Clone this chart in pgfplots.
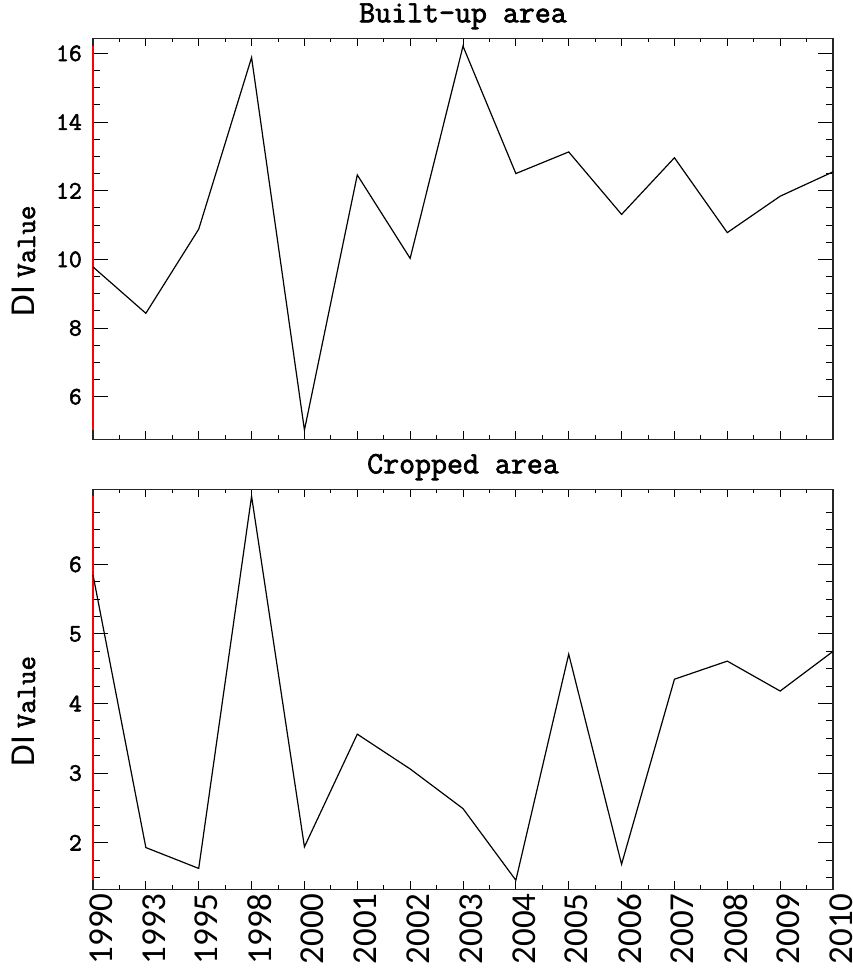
\documentclass[border=0pt]{standalone}
\usepackage{pgfplots}
\pgfplotsset{compat=1.18}
\usepackage{fontspec}
\newfontfamily\carl{Carlito}
\newfontfamily\courb{Latin Modern Mono}[FakeBold=2.2]
\pgfplotstableread{
x top bot
0 9.78 5.85
1 8.43 1.93
2 10.88 1.63
3 15.88 6.98
4 5.03 1.94
5 12.46 3.56
6 10.03 3.06
7 16.21 2.49
8 12.50 1.46
9 13.13 4.71
10 11.31 1.69
11 12.96 4.35
12 10.78 4.61
13 11.84 4.18
14 12.55 4.75
}\datatable
\begin{document}
\begin{tikzpicture}
\path[use as bounding box] (0pt,0pt) rectangle (853pt,971pt);
\pgfplotsset{
  dipanel/.style={
    scale only axis, width=740pt,
    anchor=south west,
    xmin=0, xmax=14,
    xtick={0,...,14},
    minor x tick num=1,
    tick align=inside,
    clip=false,
    axis line style={line width=1.4pt, black!85},
    every major x tick/.append style={line width=1pt, black, /pgfplots/major tick length=8pt},
    every minor x tick/.append style={line width=1pt, black, /pgfplots/minor tick length=4pt},
    every major y tick/.append style={line width=1pt, black, /pgfplots/major tick length=15pt},
    every minor y tick/.append style={line width=1pt, black, /pgfplots/minor tick length=7.5pt},
    yticklabel style={font=\fontsize{25}{25}\selectfont\courb, inner sep=0pt, xshift=-11pt},
    /pgf/number format/assume math mode=true,
    title style={font=\fontsize{31}{31}\selectfont\courb, at={(0.5,1)}, anchor=base, yshift=10pt},
    every axis y label/.style={at={(rel axis cs:0,0.445)}, xshift=-58pt, rotate=90, anchor=base},
    ylabel={{\carl\fontsize{35}{35}\selectfont DI}\hspace{8pt}{\fontsize{28}{28}\selectfont\courb Value}},
  }
}
\begin{axis}[dipanel,
  at={(93pt,531.7pt)}, height=401pt,
  ymin=4.76, ymax=16.44,
  ytick={6,8,...,16}, minor y tick num=3,
  xticklabels={},
  title={Built-up area}]
\addplot[red, line width=1.6pt, forget plot] coordinates {(0,5.03) (0,16.21)};
\addplot[black, line width=1.2pt] table[x=x, y=top] {\datatable};
\end{axis}
\begin{axis}[dipanel,
  at={(93pt,81.7pt)}, height=400pt,
  ymin=1.33, ymax=7.08,
  ytick={2,...,6},
  minor ytick={1.5,1.75,2.25,2.5,2.75,3.25,3.5,3.75,4.25,4.5,4.75,5.25,5.5,5.75,6.25,6.5,6.75},
  xticklabels={1990,1993,1995,1998,2000,2001,2002,2003,2004,2005,2006,2007,2008,2009,2010},
  xticklabel style={font=\carl\fontsize{35}{35}\selectfont, inner sep=0pt, xshift=8pt, yshift=-4pt, rotate=90, anchor=east},
  title={Cropped area}]
\addplot[red, line width=1.6pt, forget plot] coordinates {(0,1.46) (0,6.98)};
\addplot[black, line width=1.2pt] table[x=x, y=bot] {\datatable};
\end{axis}
\end{tikzpicture}
\end{document}
